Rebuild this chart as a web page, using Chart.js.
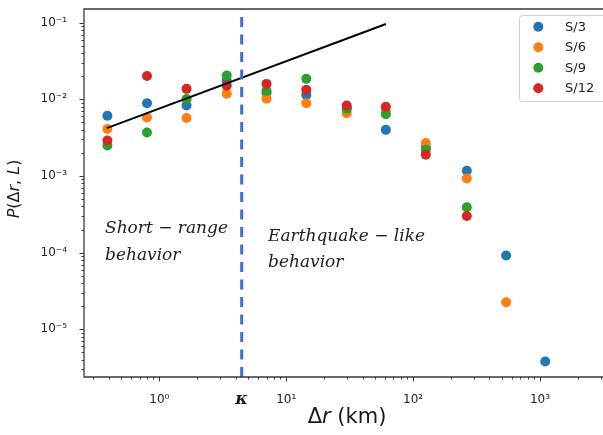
<!DOCTYPE html>
<html>
<head>
<meta charset="utf-8">
<script src="https://cdn.jsdelivr.net/npm/chart.js@4.4.1/dist/chart.umd.min.js"></script>
<style>
  html, body { margin: 0; padding: 0; background: #fff; }
  #wrap { width: 603px; height: 435px; }
</style>
</head>
<body>
<div id="wrap"><canvas id="chart"></canvas></div>
<script>
// bins of distance (km)
const dr = [0.39, 0.80, 1.64, 3.4, 7.0, 14.4, 30, 61, 126, 265, 541, 1100];

// P(dr, L) for each system size, null = no point
const s3  = [0.0061, 0.0089, 0.0083, 0.0175, 0.0122, 0.0114, 0.0077, 0.0040, 0.0024, 0.00117, 9.2e-5, 3.8e-6];
const s6  = [0.0041, 0.0058, 0.0057, 0.0118, 0.0102, 0.0089, 0.0066, 0.0070, 0.0027, 0.00093, 2.25e-5, null];
const s9  = [0.0025, 0.0037, 0.0101, 0.0204, 0.0129, 0.0185, 0.0075, 0.0064, 0.0022, 0.00039, null, null];
const s12 = [0.0029, 0.0202, 0.0137, 0.0151, 0.0159, 0.0133, 0.0083, 0.0080, 0.0019, 0.00030, null, null];

const seriesNames = ['S/3', 'S/6', 'S/9', 'S/12'];
const seriesColors = ['#1f77b4', '#ff7f0e', '#2ca02c', '#d62728'];

// power-law guide line
const fitX = [0.386, 61.1];
const fitY = [0.00422, 0.096];

// crossover distance
const kappa = 4.46;

// axis limits
const xMin = 0.2551, xMax = 3137;
const yMin = 2.385e-6, yMax = 0.1509;

const supMap = {'-': '\u207B', '0': '\u2070', '1': '\u00B9', '2': '\u00B2', '3': '\u00B3', '4': '\u2074', '5': '\u2075', '6': '\u2076', '7': '\u2077', '8': '\u2078', '9': '\u2079'};
function isDecade(v) {
  const l = Math.log10(v);
  return Math.abs(l - Math.round(l)) < 1e-6;
}
function decadeLabel(v) {
  if (!isDecade(v)) return '';
  const e = String(Math.round(Math.log10(v)));
  return '10' + e.split('').map(c => supMap[c]).join('');
}

const toPts = ys => dr.map((x, i) => ({x: x, y: ys[i]})).filter(p => p.y !== null);
const allSeries = [s3, s6, s9, s12];

// log tick values (1..9 x 10^e) inside a range
function logTicks(lo, hi) {
  const out = [];
  for (let e = Math.floor(Math.log10(lo)); e <= Math.ceil(Math.log10(hi)); e++) {
    for (let k = 1; k < 10; k++) {
      const v = k * Math.pow(10, e);
      if (v >= lo && v <= hi) out.push({v: v, major: k === 1});
    }
  }
  return out;
}

// draw a line of mixed normal / italic pieces, centred at (cx, cy)
function richText(ctx, parts, size, family, cx, cy) {
  let w = 0;
  parts.forEach(p => {
    ctx.font = (p[1] ? 'italic ' : '') + size + 'px ' + family;
    w += ctx.measureText(p[0]).width;
  });
  let x = cx - w / 2;
  ctx.textBaseline = 'middle';
  ctx.textAlign = 'left';
  parts.forEach(p => {
    ctx.font = (p[1] ? 'italic ' : '') + size + 'px ' + family;
    ctx.fillText(p[0], x, cy);
    x += ctx.measureText(p[0]).width;
  });
}

const decor = {
  id: 'decor',
  afterDraw(chart) {
    const ctx = chart.ctx;
    const a = chart.chartArea;
    const xs = chart.scales.x, ys = chart.scales.y;
    ctx.save();

    // frame (right spine falls outside the picture)
    ctx.strokeStyle = '#3a3a3a';
    ctx.lineWidth = 1.3;
    ctx.beginPath();
    ctx.moveTo(a.right, a.top); ctx.lineTo(a.left, a.top);
    ctx.lineTo(a.left, a.bottom); ctx.lineTo(a.right, a.bottom);
    ctx.stroke();

    // tick marks
    ctx.lineWidth = 1;
    ctx.strokeStyle = '#3a3a3a';
    ctx.beginPath();
    logTicks(xMin, xMax).forEach(t => {
      const px = Math.round(xs.getPixelForValue(t.v)) + 0.5;
      ctx.moveTo(px, a.bottom);
      ctx.lineTo(px, a.bottom + (t.major ? 4.5 : 2.5));
    });
    logTicks(yMin, yMax).forEach(t => {
      const py = Math.round(ys.getPixelForValue(t.v)) + 0.5;
      ctx.moveTo(a.left, py);
      ctx.lineTo(a.left - (t.major ? 4.5 : 2.5), py);
    });
    ctx.stroke();

    // axis titles
    ctx.fillStyle = '#1a1a1a';
    richText(ctx, [['\u0394', false], ['r', true], [' (km)', false]], 21, '"DejaVu Sans"', 347, 418);
    ctx.save();
    ctx.translate(15, 189);
    ctx.rotate(-Math.PI / 2);
    richText(ctx, [['P', true], ['(\u0394', false], ['r', true], [', ', false], ['L', true], [')', false]], 16, '"DejaVu Sans"', 0, 0);
    ctx.restore();

    // kappa label under the dashed line
    ctx.font = 'italic bold 17px "DejaVu Serif"';
    ctx.textAlign = 'center';
    ctx.textBaseline = 'middle';
    ctx.fillText('\u03BA', xs.getPixelForValue(kappa), 400);

    // regime annotations
    ctx.font = 'italic 17px "DejaVu Serif"';
    ctx.textAlign = 'left';
    ctx.textBaseline = 'alphabetic';
    ctx.fillStyle = '#222';
    ctx.fillText('Short \u2212 range', 105, 233);
    ctx.fillText('behavior', 105, 260);
    ctx.fillText('Earthquake \u2212 like', 268, 240.5);
    ctx.fillText('behavior', 268, 266.5);

    // legend
    ctx.beginPath();
    ctx.roundRect(519.5, 15.5, 90, 86, 3);
    ctx.fillStyle = 'rgba(255,255,255,0.8)';
    ctx.fill();
    ctx.strokeStyle = '#d0d0d0';
    ctx.lineWidth = 1;
    ctx.stroke();
    ctx.font = '13px "DejaVu Sans"';
    ctx.textBaseline = 'middle';
    seriesNames.forEach((n, i) => {
      const y = 26.7 + i * 20.5;
      ctx.beginPath();
      ctx.arc(538.3, y, 5, 0, Math.PI * 2);
      ctx.fillStyle = seriesColors[i];
      ctx.fill();
      ctx.fillStyle = '#222';
      ctx.fillText(n, 565, y + 0.5);
    });

    ctx.restore();
  }
};

const datasets = [
  {
    label: 'kappa',
    data: [{x: kappa, y: yMin}, {x: kappa, y: yMax}],
    showLine: true,
    borderColor: '#3b6fd6',
    borderWidth: 3,
    borderDash: [10, 7.5],
    pointRadius: 0,
    order: -1
  },
  {
    label: 'fit',
    data: fitX.map((x, i) => ({x: x, y: fitY[i]})),
    showLine: true,
    borderColor: '#000',
    borderWidth: 2,
    pointRadius: 0,
    order: 0
  }
];
allSeries.forEach((ys, i) => {
  datasets.push({
    label: seriesNames[i],
    data: toPts(ys),
    backgroundColor: seriesColors[i],
    borderWidth: 0,
    pointRadius: 5,
    pointBorderWidth: 0,
    order: 4 - i
  });
});

new Chart(document.getElementById('chart'), {
  type: 'scatter',
  data: { datasets: datasets },
  options: {
    responsive: true,
    maintainAspectRatio: false,
    animation: false,
    events: [],
    layout: { autoPadding: false, padding: { left: 0, top: 9, right: 0, bottom: 0 } },
    plugins: { legend: { display: false }, tooltip: { enabled: false } },
    scales: {
      x: {
        type: 'logarithmic',
        min: xMin, max: xMax,
        grid: { display: false },
        border: { display: false },
        ticks: {
          autoSkip: false, maxRotation: 0, padding: 8,
          color: '#222',
          font: { family: '"DejaVu Sans"', size: 12 },
          callback: v => decadeLabel(v)
        },
        afterFit: s => { s.height = 58; s.paddingLeft = 0; s.paddingRight = 0; }
      },
      y: {
        type: 'logarithmic',
        min: yMin, max: yMax,
        grid: { display: false },
        border: { display: false },
        ticks: {
          autoSkip: false, padding: 9,
          color: '#222',
          font: { family: '"DejaVu Sans"', size: 12 },
          callback: v => decadeLabel(v)
        },
        afterFit: s => { s.width = 84; s.paddingTop = 0; s.paddingBottom = 0; }
      }
    }
  },
  plugins: [decor]
});
</script>
</body>
</html>
